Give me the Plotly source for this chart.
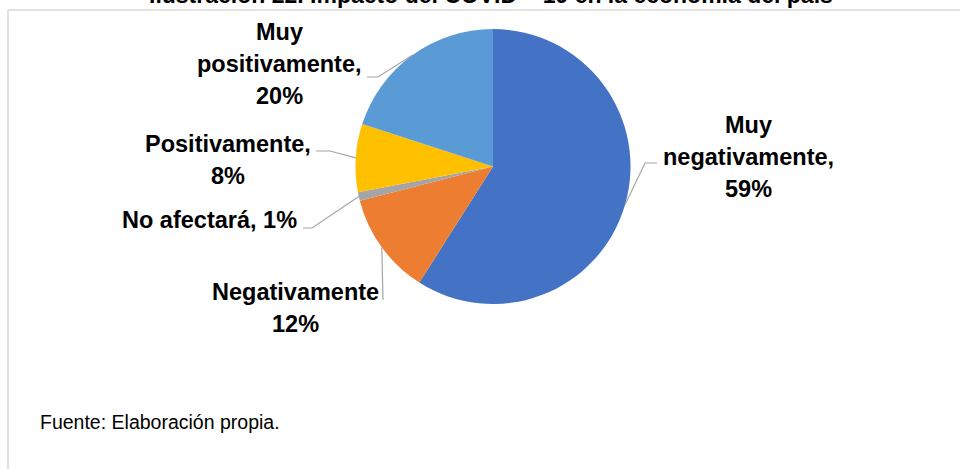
import math
import plotly.graph_objects as go

# ---- data ----
categories = ["Muy negativamente", "Negativamente", "No afectará", "Positivamente", "Muy positivamente"]
values = [59, 12, 1, 8, 20]
label_lines = [
    ["Muy", "negativamente,", "59%"],
    ["Negativamente", "12%"],
    ["No afectará, 1%"],
    ["Positivamente,", "8%"],
    ["Muy", "positivamente,", "20%"],
]
colors = ["#4472C4", "#ED7D31", "#A5A5A5", "#FFC000", "#5B9BD5"]
title_text = "Ilustración 22. Impacto del COVID – 19 en la economía del país"
source_text = "Fuente: Elaboración propia."

W, H = 960, 469
CX, CY, R = 493, 166.5, 137.5  # pie centre / radius in pixels

def px(x):
    return x / W

def py(y):
    return 1 - y / H

fig = go.Figure(
    go.Pie(
        labels=categories,
        values=values,
        sort=False,
        direction="clockwise",
        rotation=0,
        marker=dict(colors=colors, line=dict(width=0)),
        textinfo="none",
        hoverinfo="label+percent",
        showlegend=False,
        domain=dict(x=[px(CX - R), px(CX + R)], y=[py(CY + R), py(CY - R)]),
    )
)

# label placement (layout): centre of text block and leader elbow/end points
label_pos = [(748, 157), (295, 308), (209, 220), (227.5, 159.5), (279, 64)]
elbows = [[(645, 163), (657, 163)], [(383, 300)], [(312, 228), (303, 228)],
          [(330, 151), (316, 151)], [(378, 77), (367, 77)]]
LINE_GAP = 32

FONT = "Liberation Sans"
shapes = []
annotations = []
total = sum(values)
cum = 0
for i, v in enumerate(values):
    mid = (cum + v / 2) / total * 2 * math.pi
    cum += v
    sx = CX + R * math.sin(mid)
    sy = CY - R * math.cos(mid)
    pts = [(sx, sy)] + elbows[i]
    path = "M " + " L ".join(f"{px(x):.5f},{py(y):.5f}" for x, y in pts)
    shapes.append(dict(type="path", path=path, xref="paper", yref="paper",
                       line=dict(color="#A6A6A6", width=1.2)))
    lx, ly = label_pos[i]
    n = len(label_lines[i])
    for k, line in enumerate(label_lines[i]):
        yy = ly + (k - (n - 1) / 2) * LINE_GAP
        annotations.append(dict(text=f"<b>{line}</b>", x=px(lx), y=py(yy),
                                xref="paper", yref="paper", showarrow=False,
                                xanchor="center", yanchor="middle", align="center",
                                font=dict(family=FONT, size=23.5, color="#000000")))

# outer border (chart area frame)
shapes.append(dict(type="rect", xref="paper", yref="paper",
                   x0=px(8), x1=1.02, y0=-0.02, y1=py(10),
                   line=dict(color="#D9D9D9", width=1.5), fillcolor="rgba(0,0,0,0)"))

annotations.append(dict(text=f"<b>{title_text}</b>",
                        x=px(491), y=py(-5), xref="paper", yref="paper", showarrow=False,
                        xanchor="center", yanchor="middle",
                        font=dict(family=FONT, size=23, color="#000000")))
annotations.append(dict(text=source_text, x=px(38), y=py(422),
                        xref="paper", yref="paper", showarrow=False,
                        xanchor="left", yanchor="middle",
                        font=dict(family=FONT, size=19.5, color="#000000")))

fig.update_layout(width=W, height=H, margin=dict(l=0, r=0, t=0, b=0),
                  paper_bgcolor="white", plot_bgcolor="white",
                  shapes=shapes, annotations=annotations)

fig.write_html("out.html", config={"displayModeBar": False},
               post_script="document.body.style.margin='0';document.body.style.overflow='hidden';")
